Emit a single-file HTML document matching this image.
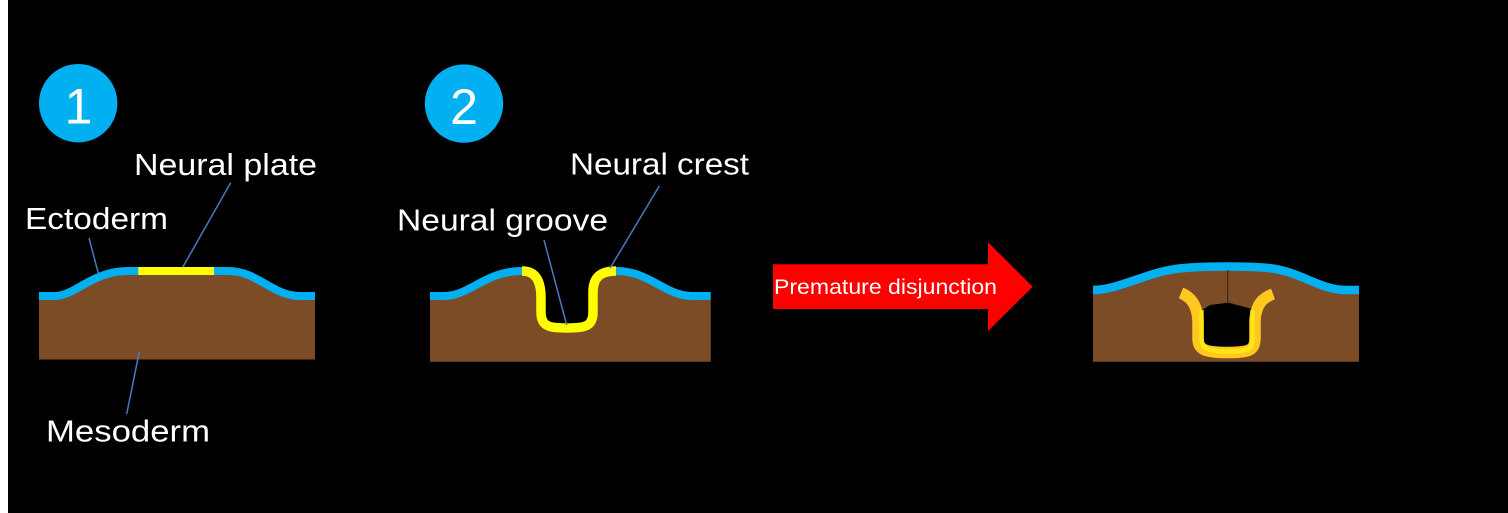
<!DOCTYPE html>
<html>
<head>
<meta charset="utf-8">
<style>
html,body{margin:0;padding:0;background:#000;}
body{width:1508px;height:513px;overflow:hidden;position:relative;}
svg{position:absolute;left:0;top:0;}
text{font-family:"Liberation Sans",sans-serif;fill:#fff;}
</style>
</head>
<body>
<svg width="1508" height="513" viewBox="0 0 1508 513" xmlns="http://www.w3.org/2000/svg">
  <rect x="0" y="0" width="1508" height="513" fill="#000"/>
  <rect x="0" y="0" width="8" height="513" fill="#fff"/>

  <!-- Circles -->
  <circle cx="78.2" cy="103.2" r="39.2" fill="#00B0F0"/>
  <text x="78.5" y="123.3" font-size="50" text-anchor="middle">1</text>
  <circle cx="464" cy="103.6" r="39.2" fill="#00B0F0"/>
  <text x="464" y="124" font-size="50" text-anchor="middle">2</text>

  <!-- Panel 1 -->
  <path d="M39,359.5 L39,296 L55,296 C75,296 92,271 128,271 L228,271 C258,271 272,296 300,296 L315,296 L315,359.5 Z" fill="#7B4C25"/>
  <path d="M39,296 L55,296 C75,296 92,271 128,271 L228,271 C258,271 272,296 300,296 L315,296" fill="none" stroke="#00B0F0" stroke-width="8"/>
  <line x1="138.3" y1="271" x2="214" y2="271" stroke="#FFFF00" stroke-width="8"/>

  <line x1="230.7" y1="182.7" x2="182.7" y2="267.3" stroke="#4A78C0" stroke-width="1.5"/>
  <line x1="89" y1="238" x2="98.3" y2="273.3" stroke="#4A78C0" stroke-width="1.5"/>
  <line x1="139.3" y1="351.7" x2="126.7" y2="414" stroke="#4A78C0" stroke-width="1.5"/>

  <text x="134" y="175" font-size="31" textLength="183" lengthAdjust="spacingAndGlyphs">Neural plate</text>
  <text x="25" y="229" font-size="31" textLength="143" lengthAdjust="spacingAndGlyphs">Ectoderm</text>
  <text x="46" y="441.7" font-size="31" textLength="164" lengthAdjust="spacingAndGlyphs">Mesoderm</text>

  <!-- Panel 2 -->
  <path d="M430,361.7 L430,296 L444,296 C470,296 485,271 522,271 C535,271 541,280 541,298 L541,312 C541,326 548,328 567,328 C586,328 593,326 593,312 L593,292 C593,278 600,271 616,271 C650,271 665,296 692,296 L710.7,296 L710.7,361.7 Z" fill="#7B4C25"/>
  <path d="M430,296 L444,296 C470,296 485,271 522,271" fill="none" stroke="#00B0F0" stroke-width="8"/>
  <path d="M616,271 C650,271 665,296 692,296 L710.7,296" fill="none" stroke="#00B0F0" stroke-width="8"/>
  <path d="M522,271 C535,271 541,280 541,298 L541,312 C541,326 548,328 567,328 C586,328 593,326 593,312 L593,292 C593,278 600,271 616,271" fill="none" stroke="#FFFF00" stroke-width="9.5"/>

  <line x1="544" y1="240" x2="566.7" y2="325" stroke="#4A78C0" stroke-width="1.5"/>
  <line x1="659.3" y1="186" x2="610" y2="268.3" stroke="#4A78C0" stroke-width="1.5"/>

  <text x="570" y="174.5" font-size="31" textLength="179" lengthAdjust="spacingAndGlyphs">Neural crest</text>
  <text x="397" y="230.7" font-size="31" textLength="211" lengthAdjust="spacingAndGlyphs">Neural groove</text>

  <!-- Arrow -->
  <polygon points="773,264.3 988,264.3 988,242.3 1032.7,286.7 988,331 988,309 773,309" fill="#FF0000"/>
  <text x="774" y="294" font-size="21.5" textLength="223" lengthAdjust="spacingAndGlyphs">Premature disjunction</text>

  <!-- Panel 3 -->
  <path d="M1093,361.7 L1093,290 C1120,290 1150,270 1185,268 C1205,266 1250,266 1268,268 C1300,271 1320,290 1345,290 L1359,290 L1359,361.7 Z" fill="#7B4C25"/>
  <path d="M1093,290 C1120,290 1150,270 1185,268 C1205,266 1250,266 1268,268 C1300,271 1320,290 1345,290 L1359,290" fill="none" stroke="#00B0F0" stroke-width="8.5"/>
  <line x1="1227.7" y1="270" x2="1227.7" y2="302.7" stroke="#3A2410" stroke-width="1"/>
  <line x1="1227.7" y1="302.7" x2="1253.3" y2="309.5" stroke="#3A2410" stroke-width="1"/>
  <path d="M1202,310 L1210,305 L1227.7,302.7 L1253.3,309.5 L1252,340 C1251,350 1246,351 1228,351 C1210,351 1203,350 1202,340 Z" fill="#000"/>
  <path d="M1181,293 C1191,297 1197,305 1198,320 L1198,338 C1198,350 1205,352.5 1228,352.5 C1250,352.5 1255,350 1255,338 L1255,320 C1256,305 1262,298 1273,294" fill="none" stroke="#FFC820" stroke-width="11.5"/>
  <path d="M1201.5,310 L1201.5,338 C1201.5,349 1207,351.5 1228,351.5 C1249,351.5 1252.5,349 1252.5,338 L1252.5,310" fill="none" stroke="#FFEB10" stroke-width="4.5" opacity="0.85"/>
</svg>
</body>
</html>
